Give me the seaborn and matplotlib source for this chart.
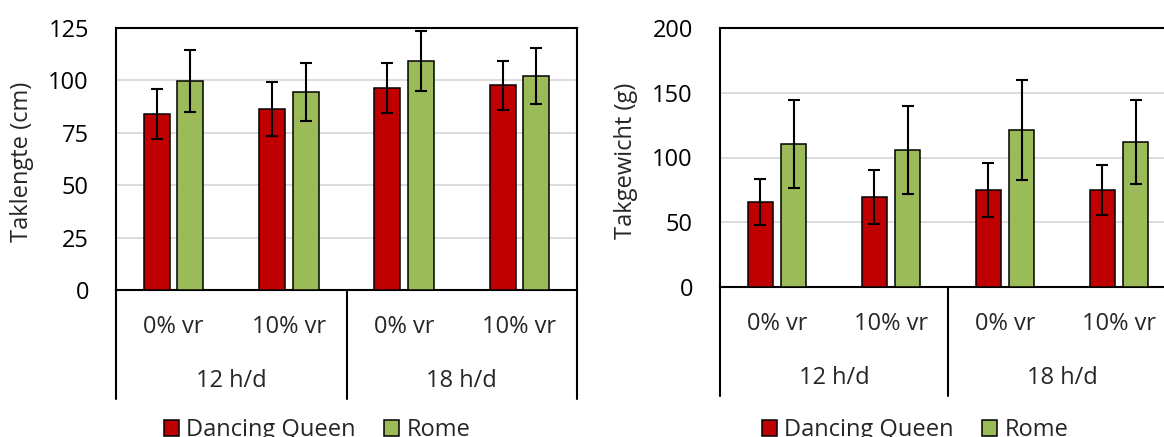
import numpy as np
import pandas as pd
import matplotlib
matplotlib.use("Agg")
import matplotlib.pyplot as plt
import matplotlib.transforms as mtransforms
from matplotlib.patches import Patch
import seaborn as sns

# ---- data ----
daylength = ["12 h/d", "12 h/d", "18 h/d", "18 h/d"]
vr_levels = ["0% vr", "10% vr", "0% vr", "10% vr"]
cultivars = ["Dancing Queen", "Rome"]

lengte_dq = [84.1, 86.3, 96.4, 97.6]
lengte_dq_err = [12.0, 13.0, 12.0, 11.5]
lengte_rome = [99.6, 94.5, 109.2, 102.1]
lengte_rome_err = [14.7, 13.8, 14.3, 13.3]

gewicht_dq = [65.6, 69.6, 74.8, 74.8]
gewicht_dq_err = [17.7, 20.6, 20.8, 19.5]
gewicht_rome = [110.5, 105.7, 121.1, 112.1]
gewicht_rome_err = [34.0, 34.0, 38.8, 32.3]

colors = {"Dancing Queen": "#C00000", "Rome": "#9BBB59"}

sns.set_style("white")
plt.rcParams["font.family"] = ["Open Sans", "DejaVu Sans"]
FS = 17

cond = [f"{d} | {v}" for d, v in zip(daylength, vr_levels)]


def make_df(dq, rome):
    return pd.DataFrame({
        "cond": cond * 2,
        "cultivar": [cultivars[0]] * 4 + [cultivars[1]] * 4,
        "value": list(dq) + list(rome),
    })


fig = plt.figure(figsize=(11.64, 4.37), dpi=100)
W, H = 1164, 437


def panel(rect_px, dq, dq_err, rome, rome_err, ymax, ystep, ylabel, ylabel_x, leg_x):
    l, t, r, b = rect_px
    ax = fig.add_axes([l / W, 1 - b / H, (r - l) / W, (b - t) / H])
    df = make_df(dq, rome)
    sns.barplot(data=df, x="cond", y="value", hue="cultivar", order=cond,
                hue_order=cultivars, palette=colors, errorbar=None,
                width=0.58, gap=0.22, edgecolor="black", linewidth=1.1,
                saturation=1, legend=False, ax=ax, zorder=3)
    errs = [dq_err, rome_err]
    for cont, e in zip(ax.containers, errs):
        xs = [p.get_x() + p.get_width() / 2 for p in cont.patches]
        hs = [p.get_height() for p in cont.patches]
        ax.errorbar(xs, hs, yerr=e, fmt="none", ecolor="black", elinewidth=1.5,
                    capsize=4.3, capthick=1.5, zorder=4)
    ax.set_ylim(0, ymax)
    ax.set_xlim(-0.5, 3.5)
    ax.set_yticks(np.arange(0, ymax + 1, ystep))
    ax.yaxis.grid(True, color="#D9D9D9", linewidth=1.3, zorder=0)
    ax.set_axisbelow(True)
    ax.tick_params(axis="y", direction="in", length=6.5, width=1.5, pad=19.5,
                   labelsize=FS, colors="black")
    ax.tick_params(axis="x", length=0, labelbottom=False)
    ax.set_xlabel("")
    ax.set_ylabel("")
    for s in ax.spines.values():
        s.set_color("black")
        s.set_linewidth(1.5)
        s.set_visible(True)
    # y label
    fig.text(ylabel_x / W, 1 - ((t + b) / 2 + 3) / H, ylabel, rotation=90,
             ha="center", va="center", fontsize=FS)
    # hierarchical category axis
    ah = b - t
    trans = mtransforms.blended_transform_factory(ax.transData, ax.transAxes)
    for xv in [-0.5, 1.5, 3.5]:
        ax.plot([xv, xv], [0, -109 / ah], transform=trans, color="black",
                lw=1.5, clip_on=False)
    for i, v in enumerate(vr_levels):
        ax.text(i, -37 / ah, v, transform=trans, ha="center", va="center",
                fontsize=FS)
    for gx, g in [(0.5, daylength[0]), (2.5, daylength[2])]:
        ax.text(gx, -91 / ah, g, transform=trans, ha="center", va="center",
                fontsize=FS)
    handles = [Patch(facecolor=colors[c], edgecolor="black", linewidth=1.1, label=c)
               for c in cultivars]
    fig.legend(handles=handles, loc="center", bbox_to_anchor=(leg_x / W, 1 - 430 / H),
               ncol=2, frameon=False, fontsize=FS, handlelength=0.65,
               handleheight=0.65, handletextpad=0.3, columnspacing=1.2,
               borderaxespad=0, borderpad=0)
    return ax


panel((116, 28, 577, 290), lengte_dq, lengte_dq_err, lengte_rome, lengte_rome_err,
      125, 25, "Taklengte (cm)", 22, 317)
panel((720, 28, 1176, 287), gewicht_dq, gewicht_dq_err, gewicht_rome, gewicht_rome_err,
      200, 50, "Takgewicht (g)", 626, 915)

fig.savefig("out.png", dpi=100)
